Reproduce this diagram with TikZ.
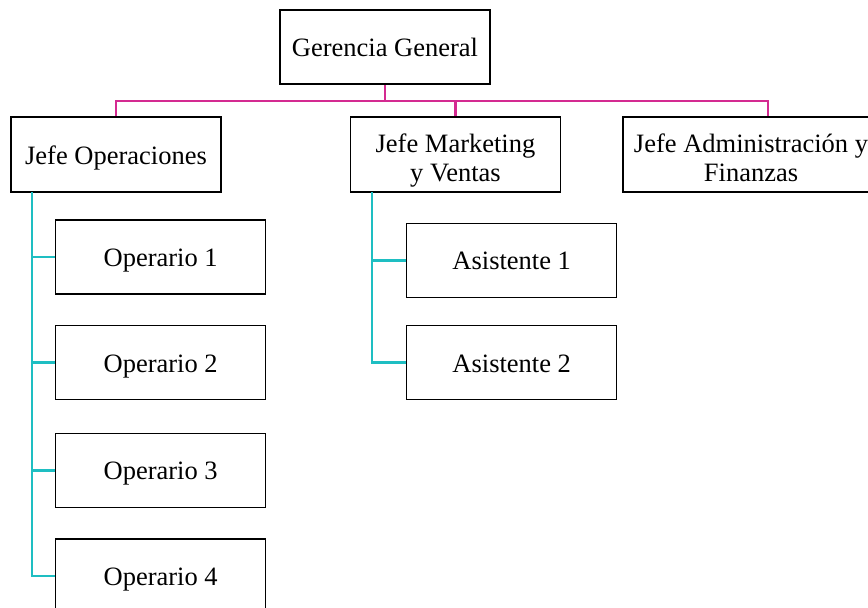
\documentclass[tikz,border=0pt]{standalone}
\usepackage{fontspec}
\setmainfont{Liberation Serif}
\definecolor{busmagenta}{HTML}{D42A91}
\definecolor{branchteal}{HTML}{1EBEC2}
\begin{document}
\begin{tikzpicture}[x=1pt,y=-1pt,
  box/.style={draw=black, line width=1.5pt, fill=white, inner sep=0pt,
    minimum width=210pt, minimum height=74pt,
    font=\fontsize{26.5}{29}\selectfont, text height=19pt, text depth=0pt},
  twoline/.style={align=center, text height=53pt, text depth=0pt},
  plaintext/.style={inner sep=0pt, font=\fontsize{26.5}{29}\selectfont, align=center},
  upper/.style={draw=busmagenta, line width=2.6pt},
  lower/.style={draw=branchteal, line width=2.6pt}]
\useasboundingbox (0,0) rectangle (868,608);
\clip (0,0) rectangle (868,608);

% top level
\node[box] (ger) at (385,47) {Gerencia General};

% department heads
\node[box, minimum height=75pt] (ops) at (116,154.5) {Jefe Operaciones};
\node[box, minimum height=75pt, twoline] (mkt) at (455.5,154.5) {Jefe Marketing\\y Ventas};
\node[box, minimum height=75pt, minimum width=290pt] (adm) at (768,154.5) {};
\node[plaintext, twoline] (admtxt) at (751,154.5) {Jefe Administración y\\Finanzas};

% operations staff
\node[box] (op1) at (160.7,257) {Operario 1};
\node[box] (op2) at (160.7,362.7) {Operario 2};
\node[box] (op3) at (160.7,470.3) {Operario 3};
\node[box] (op4) at (160.7,576) {Operario 4};

% marketing staff
\node[box] (as1) at (511.7,260.3) {Asistente 1};
\node[box] (as2) at (511.7,362.5) {Asistente 2};

% connectors from the general manager
\coordinate (bus) at (385,101);
\draw[upper] (ger.south) -- (bus) -| (ops.north);
\draw[upper] (bus) -| (mkt.north);
\draw[upper] (bus) -| (adm.north);

% connectors inside the departments
\coordinate (opspine) at (32,192);
\draw[lower] (opspine) |- (op4.west);
\draw[lower] (op1.west) -- (op1.west -| opspine);
\draw[lower] (op2.west) -- (op2.west -| opspine);
\draw[lower] (op3.west) -- (op3.west -| opspine);

\coordinate (mkspine) at (372,192);
\draw[lower] (mkspine) |- (as2.west);
\draw[lower] (as1.west) -- (as1.west -| mkspine);
\end{tikzpicture}
\end{document}
